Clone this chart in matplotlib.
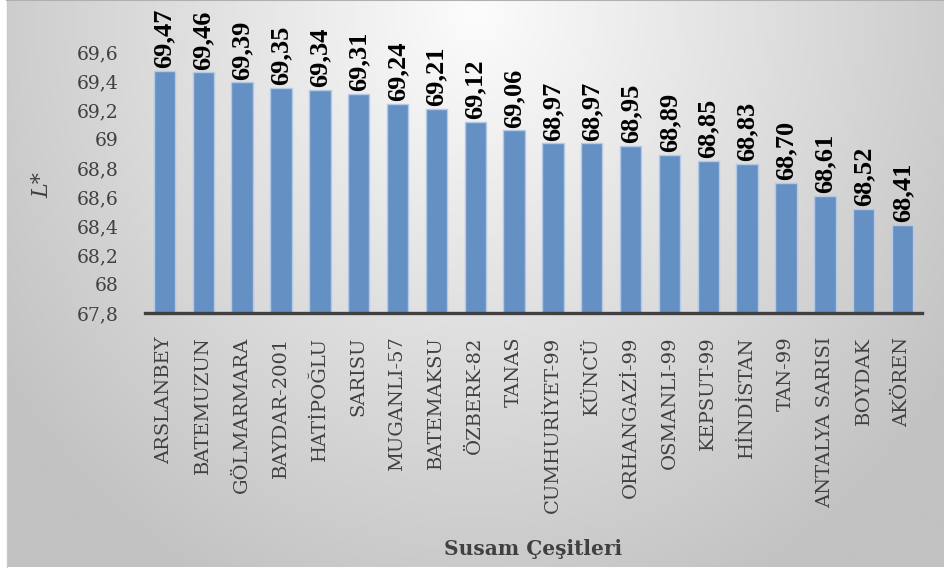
import numpy as np
import matplotlib
matplotlib.use("Agg")
import matplotlib.pyplot as plt
from matplotlib.ticker import FixedLocator

categories = ["ARSLANBEY", "BATEMUZUN", "GÖLMARMARA", "BAYDAR-2001", "HATİPOĞLU",
              "SARISU", "MUGANLI-57", "BATEMAKSU", "ÖZBERK-82", "TANAS",
              "CUMHURİYET-99", "KÜNCÜ", "ORHANGAZİ-99", "OSMANLI-99", "KEPSUT-99",
              "HİNDİSTAN", "TAN-99", "ANTALYA SARISI", "BOYDAK", "AKÖREN"]
values = [69.47, 69.46, 69.39, 69.35, 69.34, 69.31, 69.24, 69.21, 69.12, 69.06,
          68.97, 68.97, 68.95, 68.89, 68.85, 68.83, 68.70, 68.61, 68.52, 68.41]
yticks = [67.8, 68.0, 68.2, 68.4, 68.6, 68.8, 69.0, 69.2, 69.4, 69.6]
ytick_labels = ["67,8", "68", "68,2", "68,4", "68,6", "68,8", "69", "69,2", "69,4", "69,6"]
value_labels = [f"{v:.2f}".replace(".", ",") for v in values]

W, H = 945, 571
fig = plt.figure(figsize=(W / 100, H / 100), dpi=100)
fig.patch.set_facecolor("white")

# background panel with gradient
bx0, by0 = 7 / W, 4 / H
bg = fig.add_axes([bx0, by0, 1 - bx0, 1 - by0])
bg.set_zorder(-10)
ny, nx = 300, 500
xx, yy = np.meshgrid(np.linspace(0, 1, nx), np.linspace(0, 1, ny))
t = np.sqrt(((xx - 0.5) / 0.62) ** 2 + ((yy - 0.98) / 1.15) ** 2)
t = np.clip(t, 0, 1)
g = (252 - 58 * t) / 255.0
img = np.dstack([g, g, g])
bg.imshow(img, extent=[0, 1, 0, 1], origin="lower", aspect="auto")
bg.set_xlim(0, 1)
bg.set_ylim(0, 1)
for s in bg.spines.values():
    s.set_visible(False)
bg.spines["top"].set_visible(True)
bg.spines["top"].set_color("#b0b0b0")
bg.spines["top"].set_linewidth(1.5)
bg.spines["left"].set_visible(True)
bg.spines["left"].set_color("#c8c8c8")
bg.spines["left"].set_linewidth(1.0)
bg.set_xticks([])
bg.set_yticks([])

ax_left, ax_right = 145 / W, 922 / W
ax_bottom, ax_top = 1 - 313 / H, 1 - 52 / H
ax = fig.add_axes([ax_left, ax_bottom, ax_right - ax_left, ax_top - ax_bottom])
ax.patch.set_alpha(0)

x = np.arange(len(categories))
bars = ax.bar(x, values, width=0.55, bottom=0, color="#6590c4",
              edgecolor="#b3c9e6", linewidth=1.0, zorder=3)
ax.set_ylim(67.8, 69.6)
ax.set_xlim(-0.5, len(categories) - 0.5)

ax.yaxis.set_major_locator(FixedLocator(yticks))
ax.set_yticklabels(ytick_labels, fontsize=13.5, family="DejaVu Serif", color="#404040")
ax.set_xticks(x)
ax.set_xticklabels(categories, rotation=90, fontsize=14, family="DejaVu Serif",
                   color="#404040", va="top", ha="center")
ax.tick_params(axis="x", length=0, pad=17)
ax.tick_params(axis="y", length=0, pad=19)

for s in ["top", "right", "left"]:
    ax.spines[s].set_visible(False)
ax.spines["bottom"].set_color("#404040")
ax.spines["bottom"].set_linewidth(2.4)
ax.spines["bottom"].set_zorder(5)

for xi, v, lab in zip(x, values, value_labels):
    ax.annotate(lab, (xi, v), xytext=(0, 2), textcoords="offset points",
                rotation=90, ha="center", va="bottom", fontsize=19,
                family="Liberation Serif", fontweight="bold", color="black",
                clip_on=False, annotation_clip=False)

fig.text(42 / W, 1 - 185 / H, "L*", rotation=90, ha="center", va="center",
         fontsize=16, family="DejaVu Serif", style="italic", color="#404040")
fig.text((ax_left + ax_right) / 2, 1 - 549 / H, "Susam Çeşitleri", ha="center",
         va="center", fontsize=14.5, family="DejaVu Serif", fontweight="bold",
         color="#404040")

fig.savefig("out.png", dpi=100)
